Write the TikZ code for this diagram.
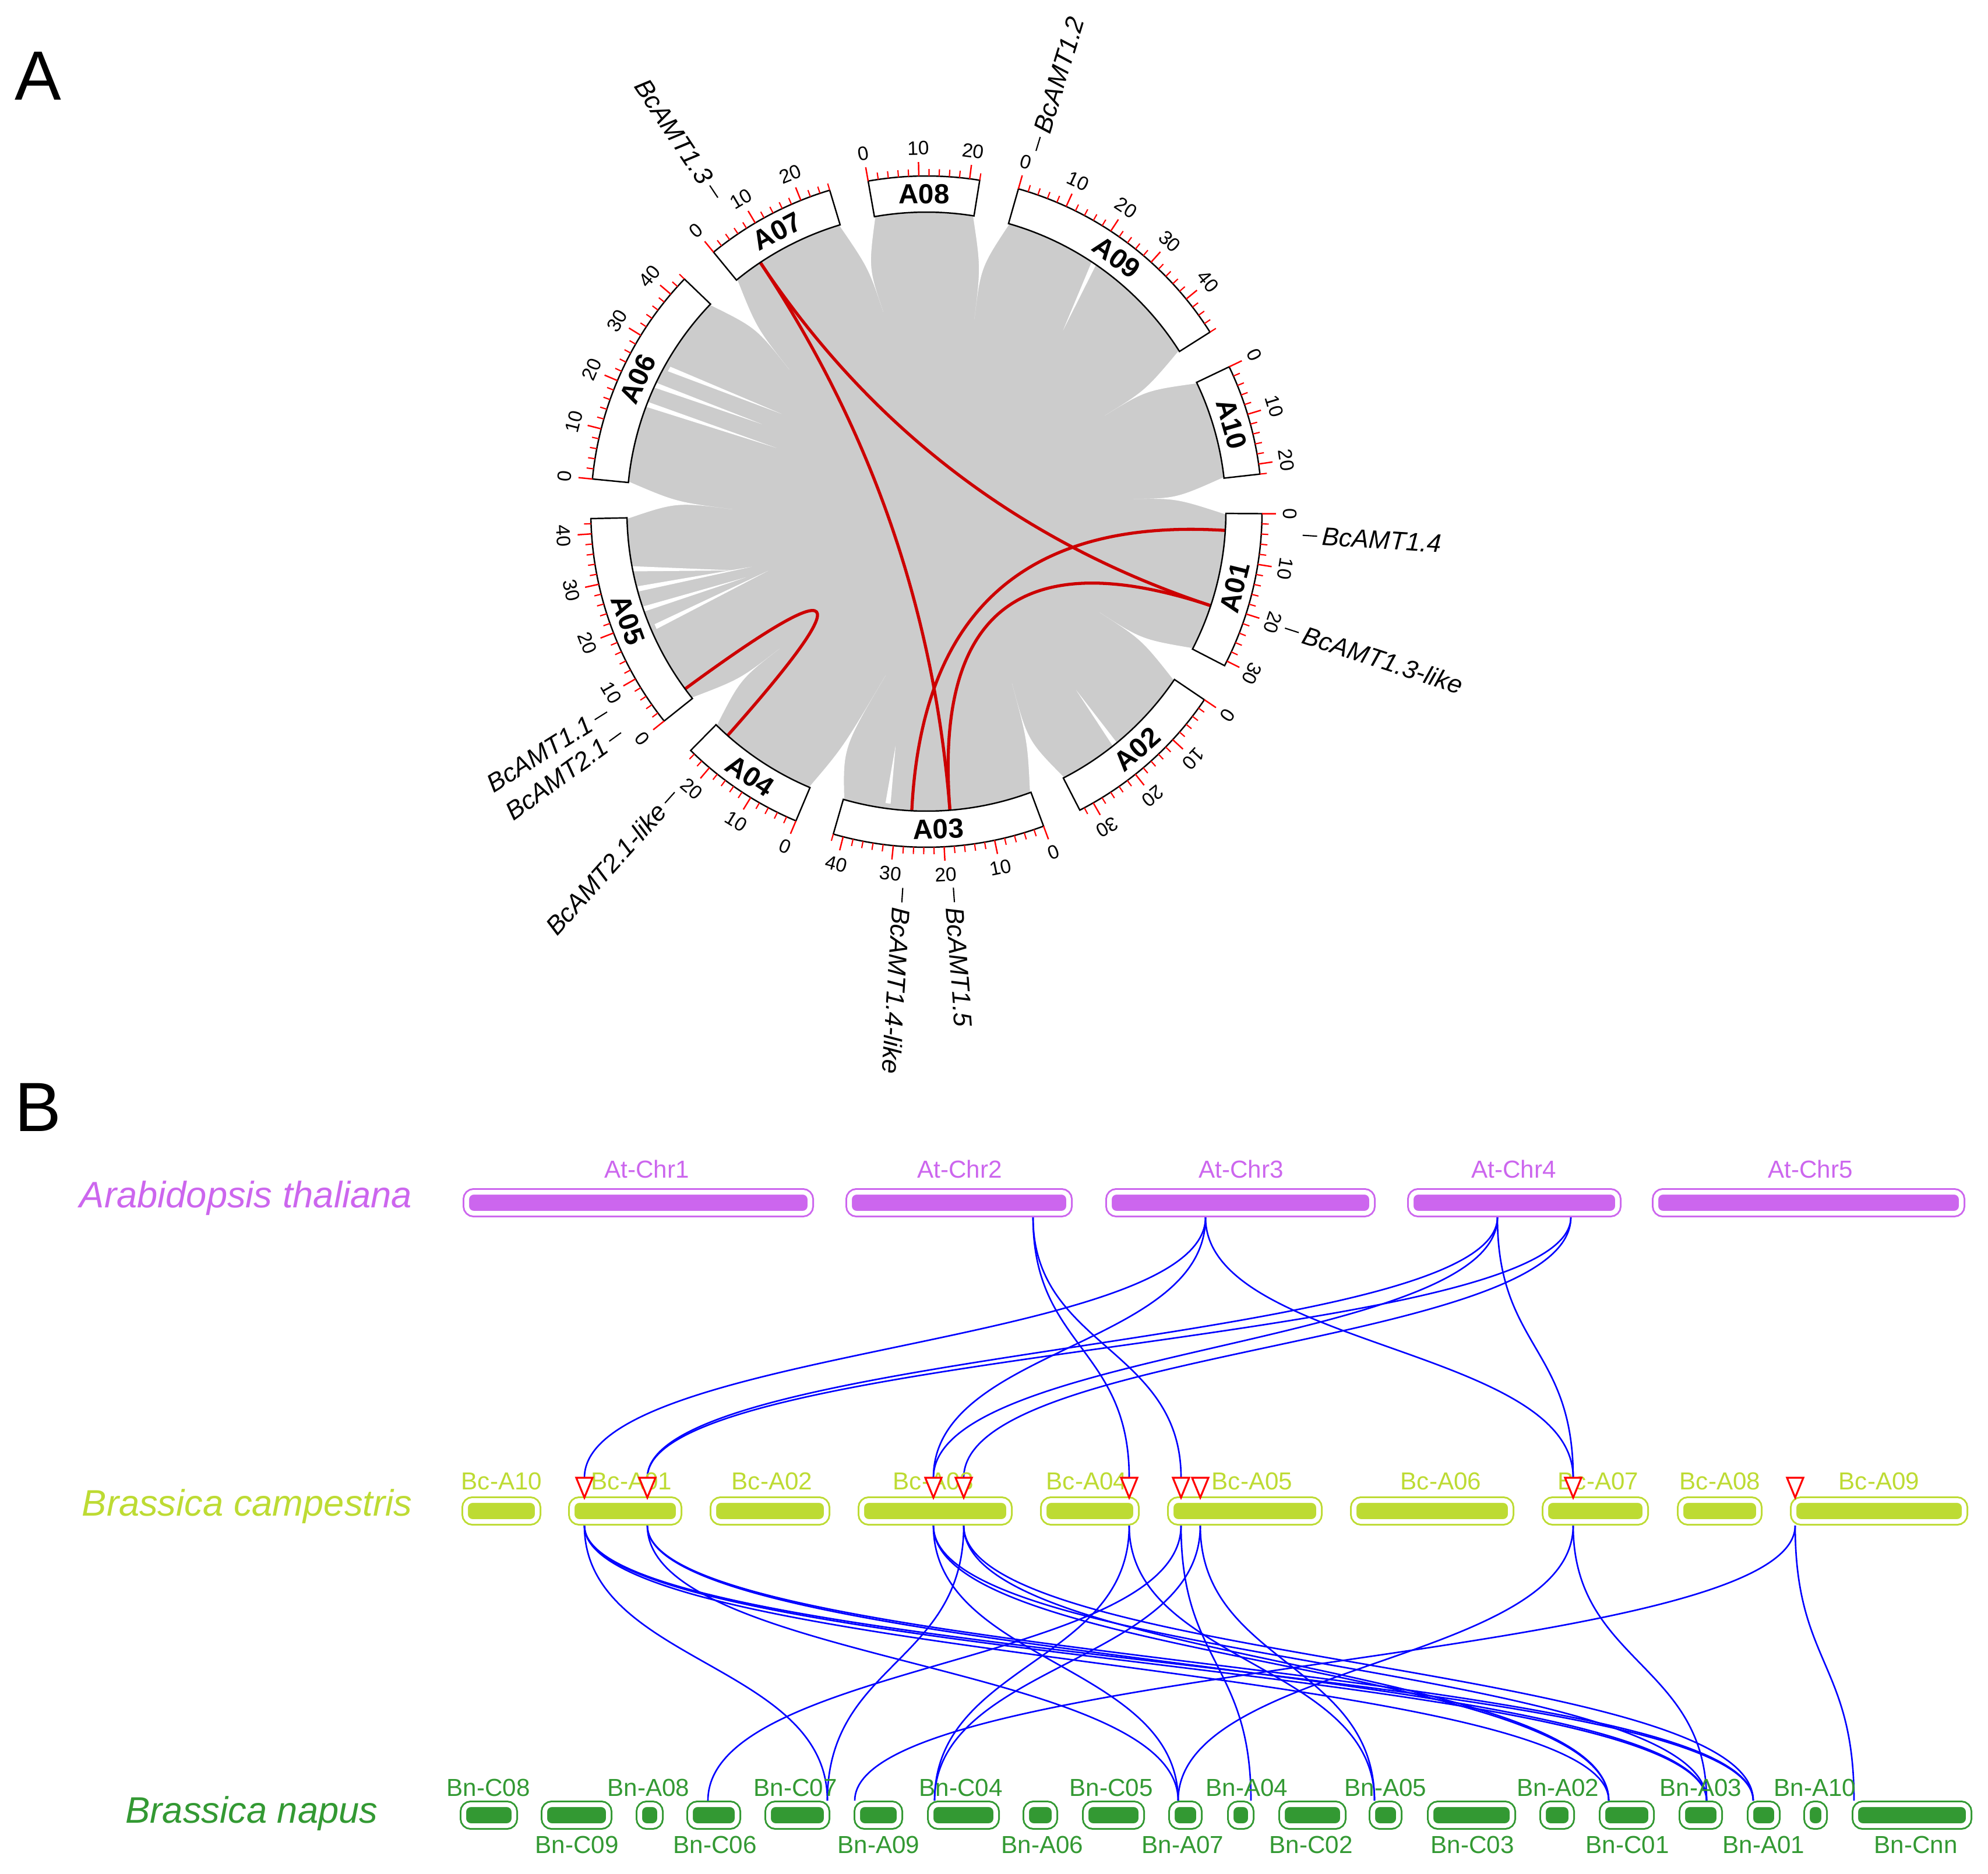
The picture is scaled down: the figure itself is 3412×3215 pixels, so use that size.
\documentclass[tikz,border=0pt]{standalone}
\usepackage{fontspec}
\setmainfont{Liberation Sans}
\usetikzlibrary{calc}

\definecolor{atcol}{RGB}{204,102,238}
\definecolor{bccol}{RGB}{189,219,51}
\definecolor{bncol}{RGB}{51,153,51}
\definecolor{linkred}{RGB}{204,0,0}
\definecolor{ribbon}{RGB}{204,204,204}

\newcommand\synlink[3]{\draw[syn] (#1) .. controls (#1 |- #3) and (#2 |- #3) .. (#2);}

\begin{document}
\begin{tikzpicture}[x=0.01cm,y=0.01cm,
    panel/.style={font=\fontsize{34}{40}\selectfont,inner sep=0pt},
    chrname/.style={font=\fontsize{13.5}{15}\selectfont\bfseries,inner sep=0pt},
    ticklab/.style={font=\fontsize{9.5}{11}\selectfont,inner sep=0pt},
    gene/.style={font=\fontsize{12.5}{15}\selectfont\itshape,inner sep=0pt},
    redlink/.style={linkred,line width=1.5pt},
    chrbox/.style={rectangle,rounded corners=0.12cm,draw=#1,fill=#1,double=white,
        double distance=0.08cm,line width=0.03cm,minimum height=0.36cm,inner sep=0pt},
    chrlab/.style={text=#1,font=\fontsize{12}{14}\selectfont,inner sep=0pt},
    species/.style={text=#1,font=\fontsize{18}{22}\selectfont\itshape,inner sep=0pt},
    syn/.style={blue,line width=0.75pt},
    hit/.style={red,line width=0.9pt,fill=white}]
    \useasboundingbox (0,0) rectangle (3412,-3215);

    % ---------------- A: circos ----------------
    \node[panel] (pa) at (65,-130) {A};
    \begin{scope}[shift={(1590,-878)}]
        \fill[ribbon] (0,0) circle[radius=514];
        % white wedges between blocks
        \foreach \gpe/\gps/\ta/\tr in {343.25/350/347.8/351,9.14/15.91/14/340,57.67/64.44/61.7/348,
            83.58/90.35/86.5/356,117.32/124.09/120.2/344,152.8/159.57/153.5/329,
            196.11/202.88/194/290,224.63/231.4/227/345,268.81/275.58/270.7/333,313.86/320.63/316/339}
        {
            \pgfmathsetmacro\gm{(\gpe+\gps)/2}
            \fill[white] ({90-\gpe+0.4}:520) .. controls ({90-\gm}:430) .. ({90-\ta}:\tr)
                .. controls ({90-\gm}:430) .. ({90-\gps-0.4}:520) -- cycle;
        }
        \foreach \ra/\rb/\rc/\rd in {255/512/252.5/315,247/505/249.5/290,259/514/253/345,
            251/514/250/330,141/514/140/400,187.5/505/187.5/405,34/514/37/390,
            299/505/304/300,291/514/293/280,295/514/298/320}
            \fill[white] ({90-\ra+0.5}:\rb) -- ({90-\rc}:\rd) -- ({90-\ra-0.5}:\rb) -- cycle;

        % red links
        \foreach \la/\lb in {326.3/108.3,326.3/175.5,93.6/182.8,108.3/175.5,233.7/221.6}
            \draw[redlink] ({90-\la}:514) .. controls ({90-\la}:171) and ({90-\lb}:171) .. ({90-\lb}:514);

        % chromosomes with ticks
        \foreach \chn/\cst/\clen in {A08/-10/22,A09/15.91/48,A10/64.44/22,A01/90.35/31,A02/124.09/33,
            A03/159.57/42,A04/202.88/25,A05/231.4/43,A06/275.58/44,A07/320.63/26}
        {
            \pgfmathsetmacro\cend{\cst+0.87*\clen}
            \pgfmathsetmacro\cmid{(\cst+\cend)/2}
            \pgfmathsetmacro\crot{(\cmid>90 && \cmid<270) ? 180-\cmid : -1*\cmid}
            \draw[line width=0.7pt,fill=white] ({90-\cst}:514) arc[start angle={90-\cst},end angle={90-\cend},radius=514]
                -- ({90-\cend}:576) arc[start angle={90-\cend},end angle={90-\cst},radius=576] -- cycle;
            \node[chrname,rotate=\crot] (\chn) at ({90-\cmid}:545) {\chn};
            \foreach \m in {0,2,...,\clen}
            {
                \pgfmathsetmacro\tang{\cst+0.87*\m}
                \pgfmathtruncatemacro\major{mod(\m,10)==0}
                \ifnum\major=1
                    \draw[red,line width=0.7pt] ({90-\tang}:576) -- ({90-\tang}:600);
                    \pgfmathsetmacro\trot{(\tang>155 && \tang<270) ? 180-\tang : -1*\tang}
                    \node[ticklab,rotate=\trot] (tk\chn\m) at ({90-\tang}:624) {\m};
                \else
                    \draw[red,line width=0.6pt] ({90-\tang}:576) -- ({90-\tang}:588);
                \fi
            }
        }

        % gene labels
        \foreach \g/\ang [count=\i] in {BcAMT1.3/326.4,BcAMT1.2/16.9,BcAMT1.4/93.6,BcAMT1.3-like/108.0,
            BcAMT1.5/175.9,BcAMT1.4-like/183.6,BcAMT2.1-like/221.9,BcAMT2.1/234.1,BcAMT1.1/237.9}
        {
            \draw[line width=0.6pt] ({90-\ang}:647) -- ({90-\ang}:672);
            \ifdim\ang pt<190pt
                \node[gene,anchor=west,rotate=90-\ang] (gene\i) at ({90-\ang}:680) {\g};
            \else
                \node[gene,anchor=east,rotate=270-\ang] (gene\i) at ({90-\ang}:680) {\g};
            \fi
        }
    \end{scope}

    % ---------------- B: collinearity ----------------
    \node[panel] (pb) at (65,-1900) {B};
    \node[species=atcol] (ath) at (422,-2056) {Arabidopsis thaliana};
    \node[species=bccol] (bra) at (424,-2585) {Brassica campestris};
    \node[species=bncol] (bna) at (432,-3112) {Brassica napus};

    \coordinate (m1) at (0,-2312);
    \coordinate (m2) at (0,-2854);
    \coordinate (at2) at (1773,-2089);
    \coordinate (at3) at (2069,-2089);
    \coordinate (at4a) at (2570,-2089);
    \coordinate (at4b) at (2696,-2089);
    \foreach \x [count=\i] in {1003,1111,1602,1654,1938,2027,2060,2700,3081}
    {
        \coordinate (bt\i) at (\x,-2536);
        \coordinate (bb\i) at (\x,-2618);
    }
    \foreach \n/\x in {nC06/1215,nC07/1420,nA09/1467,nC04/1604,nA07/2022,nA04/2147,
        nA05/2359,nC01/2761,nA03/2929,nA01/3009,nCnn/3182}
        \coordinate (\n) at (\x,-3090);

    % links
    \foreach \a/\b in {at2/bt5,at2/bt6,at3/bt1,at3/bt3,at3/bt8,at4a/bt2,at4a/bt3,at4a/bt8,at4b/bt2,at4b/bt4}
    {
        \synlink{\a}{\b}{m1}
    }
    \foreach \a/\b in {bb1/nC07,bb1/nC01,bb1/nA03,bb1/nA01,bb2/nA03,bb2/nA01,bb2/nA07,
        bb3/nA07,bb3/nC01,bb3/nA03,bb4/nC07,bb4/nC01,bb4/nA01,bb5/nC04,bb5/nA05,
        bb6/nC06,bb6/nA04,bb7/nC04,bb7/nA05,bb8/nA07,bb8/nA03,bb9/nA09,bb9/nCnn}
    {
        \synlink{\a}{\b}{m2}
    }

    % chromosomes
    \foreach \n/\x/\w/\lx in {At-Chr1/1095.5/589/1110,At-Chr2/1646/376/1647,At-Chr3/2129/450/2130,
        At-Chr4/2599/354/2598,At-Chr5/3104/524/3107}
    {
        \node[chrbox=atcol,minimum width=\w*0.01cm] (\n) at (\x,-2064) {};
        \node[chrlab=atcol] (\n-lab) at (\lx,-2006) {\n};
    }
    \foreach \n/\x/\w/\lx in {Bc-A10/860.5/123/861,Bc-A01/1073/182/1084,Bc-A02/1321.5/193/1325,
        Bc-A03/1605/252/1602,Bc-A04/1870.5/157/1865,Bc-A05/2136.5/253/2149,Bc-A06/2458/268/2473,
        Bc-A07/2738/170/2743,Bc-A08/2951.5/133/2952,Bc-A09/3225/292/3225}
    {
        \node[chrbox=bccol,minimum width=\w*0.01cm] (\n) at (\x,-2593) {};
        \node[chrlab=bccol] (\n-lab) at (\lx,-2542) {\n};
    }
    \foreach \n/\x/\w/\lx/\ly in {Bn-C08/839/86/838/3068,Bn-C09/989.5/109/990/3166,
        Bn-A08/1115/34/1113/3068,Bn-C06/1225/80/1227/3166,Bn-C07/1368.5/99/1365/3068,
        Bn-A09/1507.5/71/1508/3166,Bn-C04/1653.5/111/1649/3068,Bn-A06/1785.5/47/1789/3166,
        Bn-C05/1911/94/1907/3068,Bn-A07/2034.5/45/2030/3166,Bn-A04/2129.5/33/2140/3068,
        Bn-C02/2252.5/103/2250/3166,Bn-A05/2378/44/2378/3068,Bn-C03/2525.5/139/2527/3166,
        Bn-A02/2672.5/47/2674/3068,Bn-C01/2792/82/2793/3166,Bn-A03/2919/62/2919/3068,
        Bn-A01/3027/44/3027/3166,Bn-A10/3116/28/3115/3068,Bn-Cnn/3281.5/193/3288/3166}
    {
        \node[chrbox=bncol,minimum width=\w*0.01cm] (\n) at (\x,-3115) {};
        \node[chrlab=bncol] (\n-lab) at (\lx,-\ly) {\n};
    }

    % gene marks
    \foreach \i in {1,...,9}
        \draw[hit] (bt\i) ++(-14,0) -- ++(28,0) -- ++(-14,-34) -- cycle;
\end{tikzpicture}
\end{document}
